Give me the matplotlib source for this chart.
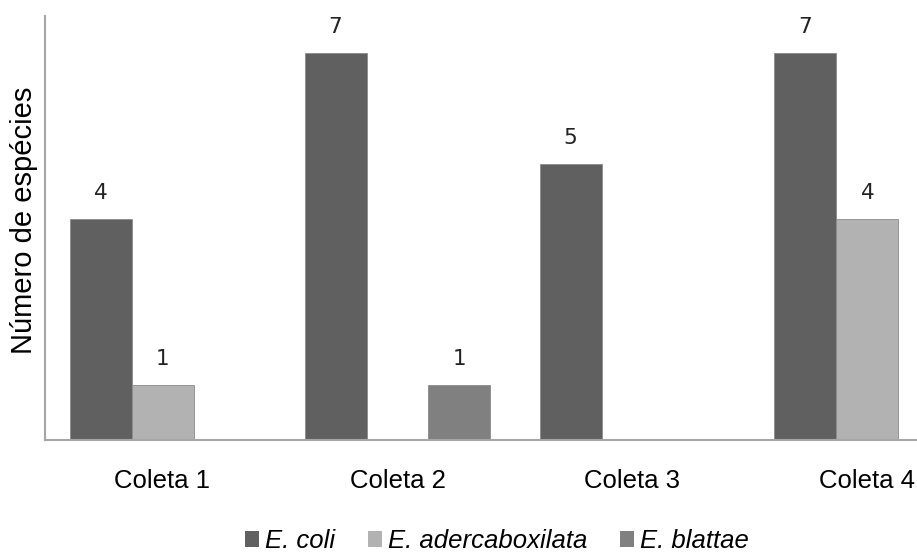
import matplotlib
matplotlib.use("Agg")
import matplotlib.pyplot as plt
import numpy as np

categories = ["Coleta 1", "Coleta 2", "Coleta 3", "Coleta 4"]
series_names = ["E. coli", "E. adercaboxilata", "E. blattae"]
e_coli = [4, 7, 5, 7]
e_adercaboxilata = [1, 0, 0, 4]
e_blattae = [0, 1, 0, 0]
colors = ["#606060", "#b2b2b2", "#808080"]

W, H = 917, 556
fig = plt.figure(figsize=(W / 100, H / 100), dpi=100)
ax_left, ax_bottom, ax_top = 45, 440, 16
cat_px = 235
ax = fig.add_axes([ax_left / W, (H - ax_bottom) / H, 4 * cat_px / W, (ax_bottom - ax_top) / H])

x = np.arange(len(categories))
bw = 62 / cat_px
series = [e_coli, e_adercaboxilata, e_blattae]
for i, (name, vals, c) in enumerate(zip(series_names, series, colors)):
    xs = x + (i - 1) * bw
    bars = ax.bar(xs, vals, width=bw, color=c, edgecolor="#8a8a8a", linewidth=0.6, label=name)
    for xi, v in zip(xs, vals):
        if v > 0:
            ax.annotate(str(v), (xi, v), xytext=(0, 14.4), textcoords="offset points",
                        ha="center", va="baseline", fontsize=15.5, color="#222222",
                        family="DejaVu Sans")

ax.set_xlim(-0.5, len(categories) - 0.5)
ax.set_ylim(0, 424 / 55.3)
ax.set_xticks(x)
ax.set_xticklabels(categories, family="Liberation Sans", fontsize=18.5)
ax.tick_params(axis="x", length=0, pad=21)
ax.set_yticks([])
for s in ["top", "right"]:
    ax.spines[s].set_visible(False)
for s in ["left", "bottom"]:
    ax.spines[s].set_color("#a6a6a6")
    ax.spines[s].set_linewidth(1.5)

fig.text(24 / W, 1 - 220 / H, "Número de espécies", rotation=90, ha="center", va="center",
         family="Liberation Sans", fontsize=21)

leg = fig.legend(loc="center", bbox_to_anchor=(497 / W, 1 - 541 / H), ncol=3, frameon=False,
                 prop={"family": "Liberation Sans", "style": "italic", "size": 18.5},
                 handlelength=0.55, handleheight=0.55, handletextpad=0.25, columnspacing=1.25,
                 borderpad=0)
for h in leg.legend_handles:
    h.set_edgecolor("none")

fig.savefig("out.png", dpi=100)
